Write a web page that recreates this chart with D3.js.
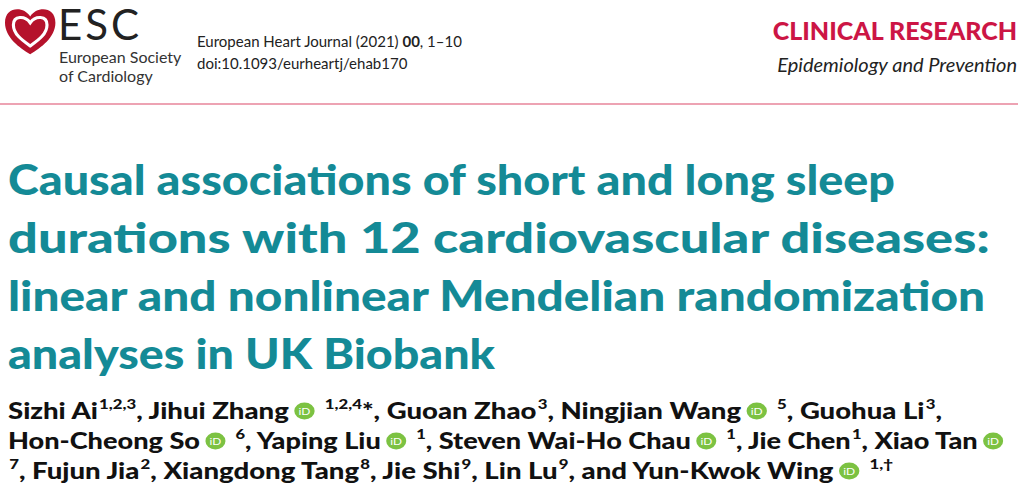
<!DOCTYPE html><html><head><meta charset="utf-8">
<script src="https://cdn.jsdelivr.net/npm/d3@7"></script>
<style>body{margin:0;background:#fff}</style></head><body><svg id="c" width="1029" height="504"></svg>
<script>
const titleLines = ["Causal associations of short and long sleep","durations with 12 cardiovascular diseases:","linear and nonlinear Mendelian randomization","analyses in UK Biobank"];
const titleEnds = [895, 990, 985, 495];
// author segments: [text, superscript, orcid]
const authorLines = [
 [["Sizhi Ai","1,2,3",0],[", Jihui Zhang","",1],["","1,2,4",0],["*, Guoan Zhao","3",0],[", Ningjian Wang","",1],["","5",0],[", Guohua Li","3",0],[",","",0]],
 [["Hon-Cheong So","",1],["","6",0],[", Yaping Liu","",1],["","1",0],[", Steven Wai-Ho Chau","",1],["","1",0],[", Jie Chen","1",0],[", Xiao Tan","",1]],
 [["","7",0],[", Fujun Jia","2",0],[", Xiangdong Tang","8",0],[", Jie Shi","9",0],[", Lin Lu","9",0],[", and Yun-Kwok Wing","",1],["","1,†",0]]
];
const authorEnds = [942, 1012, 893];
const svg = d3.select("#c");
const F = "Lato, 'Open Sans', sans-serif";
// logo
const g = svg.append("g").attr("transform","translate(5,6) scale(1.05)");
g.append("path").attr("d","M24,10 C18,0 0,0 0,16 C0,30 14,40 24,46 C34,40 48,30 48,16 C48,0 30,0 24,10Z").attr("fill","#b5122b");
g.append("path").attr("d","M24,16 C19,9 8,9 8,18 C8,27 17,33 24,38 C31,33 40,27 40,18 C40,9 29,9 24,16Z").attr("fill","none").attr("stroke","#fff").attr("stroke-width",3);
svg.append("text").attr("x",58).attr("y",40).attr("font-family","Lato, sans-serif").attr("font-size",42).attr("fill","#222").attr("letter-spacing",3).text("ESC");
svg.append("text").attr("x",59).attr("y",63).attr("font-family",F).attr("font-size",16).attr("fill","#333").text("European Society");
svg.append("text").attr("x",59).attr("y",82).attr("font-family",F).attr("font-size",16).attr("fill","#333").text("of Cardiology");
const j = svg.append("text").attr("x",197).attr("y",47).attr("font-family",F).attr("font-size",15).attr("fill","#222");
j.append("tspan").text("European Heart Journal (2021) ");j.append("tspan").attr("font-weight","bold").text("00");j.append("tspan").text(", 1–10");
svg.append("text").attr("x",197).attr("y",69).attr("font-family",F).attr("font-size",15).attr("fill","#222").text("doi:10.1093/eurheartj/ehab170");
svg.append("text").attr("x",1017).attr("y",40).attr("text-anchor","end").attr("font-family",F).attr("font-weight",900).attr("font-size",25).attr("fill","#cc1545").text("CLINICAL RESEARCH");
svg.append("text").attr("x",1017).attr("y",72).attr("text-anchor","end").attr("font-family",F).attr("font-style","italic").attr("font-size",20).attr("fill","#222").text("Epidemiology and Prevention");
svg.append("line").attr("x1",0).attr("x2",1018).attr("y1",104).attr("y2",104).attr("stroke","#eda3b3").attr("stroke-width",2);
// title
const ty = d3.scaleLinear().domain([0,3]).range([195,369]);
titleLines.forEach((t,i)=>{
  svg.append("text").attr("x",8).attr("y",ty(i)).attr("font-family",F).attr("font-weight",900).attr("font-size",42).attr("fill","#148a96")
    .attr("textLength",titleEnds[i]-8).attr("lengthAdjust","spacingAndGlyphs").text(t);
});
// authors
const ay = d3.scaleLinear().domain([0,2]).range([419,479]);
authorLines.forEach((segs,i)=>{
  const grp = svg.append("g");
  let x = 8;
  const fs = 23;
  segs.forEach(([t,s,o])=>{
    if(t){const e=grp.append("text").attr("x",x).attr("y",ay(i)).attr("font-family",F).attr("font-weight",900).attr("font-size",fs).attr("fill","#111").text(t);
      x+=e.node().getComputedTextLength();}
    if(o){x+=5;grp.append("circle").attr("cx",x+8).attr("cy",ay(i)-8).attr("r",8.5).attr("fill","#7cc242");
      grp.append("text").attr("x",x+8).attr("y",ay(i)-4).attr("text-anchor","middle").attr("font-family",F).attr("font-size",10).attr("fill","#fff").text("iD");
      x+=24;}
    if(s){const e=grp.append("text").attr("x",x+1).attr("y",ay(i)-10).attr("font-family",F).attr("font-weight",900).attr("font-size",14).attr("fill","#111").text(s);
      x+=e.node().getComputedTextLength()+1;}
  });
  const k=(authorEnds[i]-8)/(x-8);
  grp.attr("transform",`translate(8,0) scale(${k},1) translate(-8,0)`);
});
</script></body></html>
